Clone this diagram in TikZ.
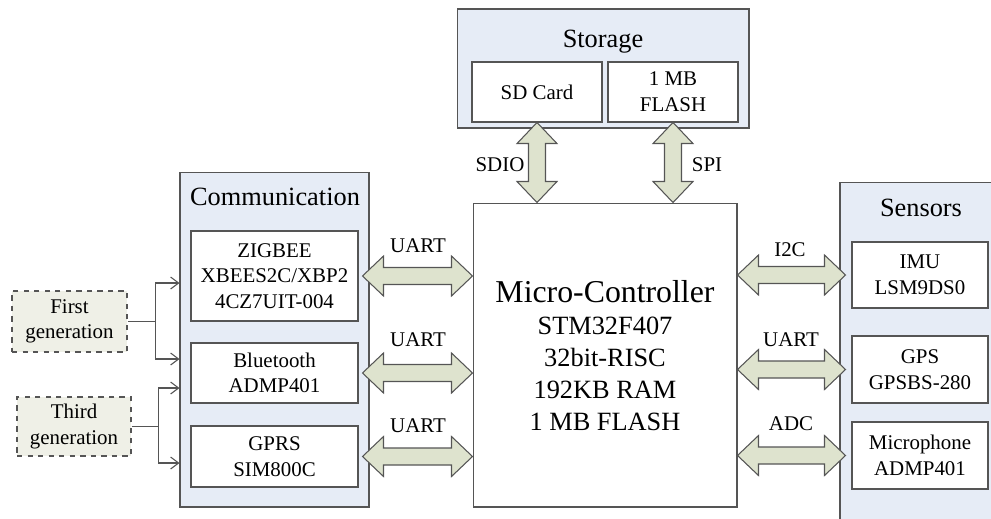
\documentclass[tikz,border=0pt]{standalone}
\usepackage{fontspec}
\setmainfont{Liberation Serif}
\usetikzlibrary{arrows.meta,positioning,calc}
\definecolor{groupblue}{RGB}{230,236,246}
\definecolor{busgreen}{RGB}{222,227,206}
\definecolor{genfill}{RGB}{239,240,231}
\definecolor{edgegray}{RGB}{85,85,85}
\newcommand{\hd}{21}  % head length of the bus arrows
\newcommand{\hw}{20}  % half width of the head
\newcommand{\sw}{8.5} % half width of the shaft
\tikzset{
  groupbox/.style={draw=edgegray, fill=groupblue, line width=0.6pt},
  unitbox/.style={draw=edgegray, fill=white, line width=0.6pt, font=\fontsize{11.9pt}{14.6pt}\selectfont, align=center, inner sep=1pt},
  genbox/.style={draw=edgegray, dashed, fill=genfill, line width=0.6pt, font=\fontsize{11.9pt}{14.6pt}\selectfont, align=center, inner sep=1pt},
  grouptitle/.style={font=\fontsize{15pt}{18pt}\selectfont, anchor=base, inner sep=0pt},
  buslabel/.style={font=\fontsize{11.9pt}{14.6pt}\selectfont, anchor=base, inner sep=0pt},
  genline/.style={draw=edgegray, line width=0.6pt},
  genarrow/.style={genline, -{Straight Barb[length=1.6mm,width=2.4mm]}},
  busarrow/.style={draw=edgegray, fill=busgreen, line width=0.6pt, line join=miter},
  hbus/.style={busarrow, to path={
    -- ($(\tikztostart)+(\hd,-\hw)$) -- ($(\tikztostart)+(\hd,-\sw)$)
    -- ($(\tikztotarget)+(-\hd,-\sw)$) -- ($(\tikztotarget)+(-\hd,-\hw)$)
    -- (\tikztotarget)
    -- ($(\tikztotarget)+(-\hd,\hw)$) -- ($(\tikztotarget)+(-\hd,\sw)$)
    -- ($(\tikztostart)+(\hd,\sw)$) -- ($(\tikztostart)+(\hd,\hw)$) -- cycle}},
  vbus/.style={busarrow, to path={
    -- ($(\tikztostart)+(\hw,\hd)$) -- ($(\tikztostart)+(\sw,\hd)$)
    -- ($(\tikztotarget)+(\sw,-\hd)$) -- ($(\tikztotarget)+(\hw,-\hd)$)
    -- (\tikztotarget)
    -- ($(\tikztotarget)+(-\hw,-\hd)$) -- ($(\tikztotarget)+(-\sw,-\hd)$)
    -- ($(\tikztostart)+(-\sw,\hd)$) -- ($(\tikztostart)+(-\hw,\hd)$) -- cycle}},
}
\begin{document}
\begin{tikzpicture}[x=0.02cm, y=-0.02cm]
  \useasboundingbox (0,0) rectangle (991,518);
  \clip (0,0) rectangle (991,518);

  % Group frames
  \node[groupbox, minimum width=5.84cm, minimum height=2.38cm] (storage) at (603,68.5) {};
  \node[grouptitle] (storagetitle) at (603,47) {Storage};
  \node[groupbox, minimum width=3.78cm, minimum height=6.7cm] (comm) at (274.5,339.5) {};
  \node[grouptitle] (commtitle) at (275,205) {Communication};
  \node[groupbox, minimum width=3.2cm, minimum height=7.2cm] (sensors) at (920,362) {};
  \node[grouptitle] (sensorstitle) at (921,216) {Sensors};

  % Storage units
  \node[unitbox, minimum width=2.6cm, minimum height=1.2cm] (sd) at (537,92) {SD Card};
  \node[unitbox, minimum width=2.6cm, minimum height=1.2cm] (flash) at (673,92) {1 MB\\FLASH};

  % Micro-controller
  \node[draw=edgegray, fill=white, line width=0.6pt, minimum width=5.28cm, minimum height=6.08cm] (mcu) at (605,355) {};
  \node[align=center, font=\fontsize{15pt}{18.2pt}\selectfont, inner sep=0pt] (mcutext) at (605,356)
    {{\fontsize{18.1pt}{21pt}\selectfont Micro-Controller}\\STM32F407\\32bit-RISC\\192KB RAM\\1 MB FLASH};

  % Communication units
  \node[unitbox, minimum width=3.34cm, minimum height=1.8cm] (zig) at (274.5,276) {ZIGBEE\\XBEES2C/XBP2\\4CZ7UIT-004};
  \node[unitbox, minimum width=3.34cm, minimum height=1.2cm] (bt) at (274.5,373) {Bluetooth\\ADMP401};
  \node[unitbox, minimum width=3.34cm, minimum height=1.22cm] (gprs) at (274.5,456.5) {GPRS\\SIM800C};

  % Sensor units
  \node[unitbox, minimum width=2.72cm, minimum height=1.32cm] (imu) at (920,275) {IMU\\LSM9DS0};
  \node[unitbox, minimum width=2.72cm, minimum height=1.34cm] (gps) at (920,369.5) {GPS\\GPSBS-280};
  \node[unitbox, minimum width=2.72cm, minimum height=1.34cm] (mic) at (920,455.5) {Microphone\\ADMP401};

  % Generations
  \node[genbox, minimum width=2.3cm, minimum height=1.22cm] (first) at (69.5,321.5) {First\\generation};
  \node[genbox, minimum width=2.28cm, minimum height=1.18cm] (third) at (74,426.5) {Third\\generation};

  % Bus end points
  \coordinate (sdbus) at (mcu.north -| sd.south);
  \coordinate (flashbus) at (mcu.north -| flash.south);
  \coordinate (zigbus) at ([xshift=0.08cm]zig.east);
  \coordinate (btbus) at ([xshift=0.08cm]bt.east);
  \coordinate (gprsbus) at ([xshift=0.08cm]gprs.east);
  \coordinate (mcuzig) at (mcu.west |- zig.east);
  \coordinate (mcubt) at (mcu.west |- bt.east);
  \coordinate (mcugprs) at (mcu.west |- gprs.east);
  \coordinate (imubus) at ([xshift=-0.12cm]imu.west);
  \coordinate (gpsbus) at ([xshift=-0.12cm]gps.west);
  \coordinate (micbus) at ([xshift=-0.12cm]mic.west);
  \coordinate (mcuimu) at (mcu.east |- imu.west);
  \coordinate (mcugps) at (mcu.east |- gps.west);
  \coordinate (mcumic) at (mcu.east |- mic.west);

  % Buses
  \draw[vbus] (sd.south) to (sdbus);
  \draw[vbus] (flash.south) to (flashbus);
  \draw[hbus] (zigbus) to (mcuzig);
  \draw[hbus] (btbus) to (mcubt);
  \draw[hbus] (gprsbus) to (mcugprs);
  \draw[hbus] (mcuimu) to (imubus);
  \draw[hbus] (mcugps) to (gpsbus);
  \draw[hbus] (mcumic) to (micbus);

  % Bus labels
  \node[buslabel] (sdiolbl) at (500,171) {SDIO};
  \node[buslabel] (spilbl) at (707,171) {SPI};
  \node[buslabel] (uartzig) at (418,252) {UART};
  \node[buslabel] (uartbt) at (418,346) {UART};
  \node[buslabel] (uartgprs) at (418,432) {UART};
  \node[buslabel] (i2clbl) at (790,256) {I2C};
  \node[buslabel] (uartgps) at (791,346) {UART};
  \node[buslabel] (adclbl) at (791,430) {ADC};

  % Generation links
  \coordinate (firstjoin) at ($(first.east)+(28,0)$);
  \coordinate (firstzig) at (comm.west |- 0,283);
  \coordinate (firstbt) at (comm.west |- 0,359);
  \coordinate (thirdjoin) at ($(third.east)+(27,0)$);
  \coordinate (thirdbt) at (comm.west |- 0,388);
  \coordinate (thirdgprs) at (comm.west |- 0,463);
  \draw[genline] (first.east) -- (firstjoin);
  \draw[genarrow] (firstjoin) |- (firstzig);
  \draw[genarrow] (firstjoin) |- (firstbt);
  \draw[genline] (third.east) -- (thirdjoin);
  \draw[genarrow] (thirdjoin) |- (thirdbt);
  \draw[genarrow] (thirdjoin) |- (thirdgprs);
\end{tikzpicture}
\end{document}
